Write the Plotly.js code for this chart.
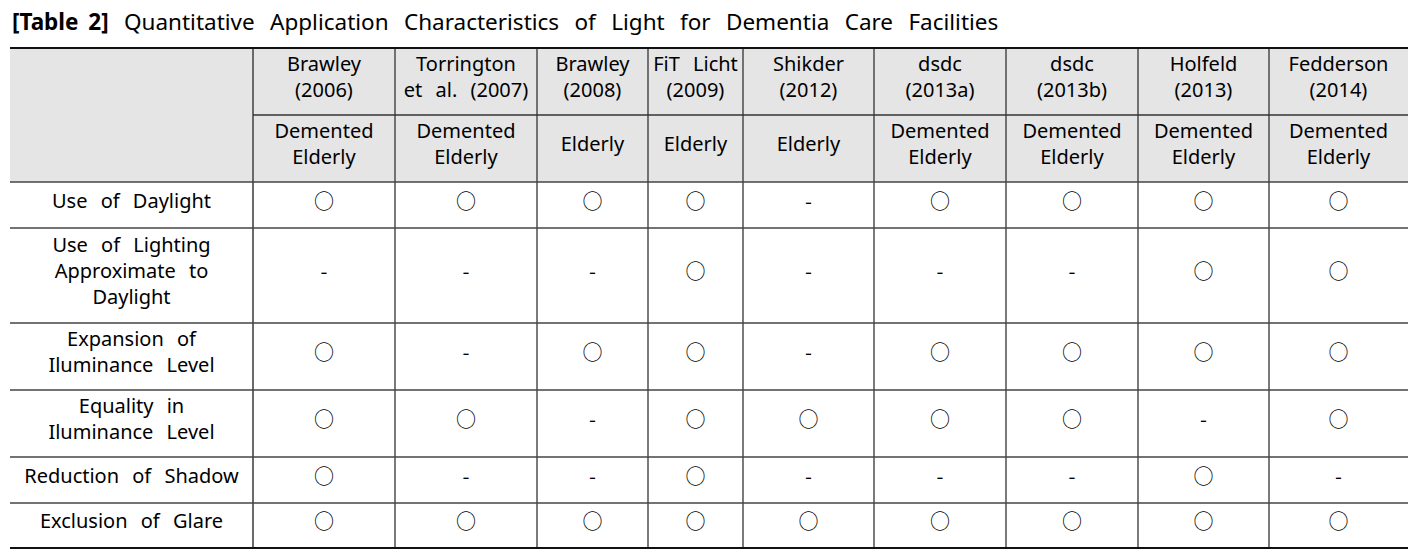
<!DOCTYPE html>
<html>
<head>
<meta charset="utf-8">
<script src="https://cdn.plot.ly/plotly-3.0.1.min.js"></script>
<style>
  html, body { margin: 0; padding: 0; background: #fff; }
  #chart { width: 1428px; height: 551px; }
  #chart .textpoint text { word-spacing: 8px; }
  #chart .gtitle { word-spacing: 9.5px; }
  #chart .gtitle tspan[style*="bold"] { word-spacing: 4px; }
</style>
</head>
<body>
<div id="chart"></div>
<script>
// ---------------- DATA ----------------
const tableTitle = "<b>[Table 2]</b> Quantitative Application Characteristics of Light for Dementia Care Facilities";

const studies = [
  "Brawley<br>(2006)",
  "Torrington<br>et al. (2007)",
  "Brawley<br>(2008)",
  "FiT Licht<br>(2009)",
  "Shikder<br>(2012)",
  "dsdc<br>(2013a)",
  "dsdc<br>(2013b)",
  "Holfeld<br>(2013)",
  "Fedderson<br>(2014)"
];

const subjects = [
  "Demented<br>Elderly",
  "Demented<br>Elderly",
  "Elderly",
  "Elderly",
  "Elderly",
  "Demented<br>Elderly",
  "Demented<br>Elderly",
  "Demented<br>Elderly",
  "Demented<br>Elderly"
];

const criteria = [
  "Use of Daylight",
  "Use of Lighting<br>Approximate to<br>Daylight",
  "Expansion of<br>Iluminance Level",
  "Equality in<br>Iluminance Level",
  "Reduction of Shadow",
  "Exclusion of Glare"
];

// one list per criterion, one entry per study
const useOfDaylight      = ["○","○","○","○","-","○","○","○","○"];
const approxDaylight     = ["-","-","-","○","-","-","-","○","○"];
const expansionLevel     = ["○","-","○","○","-","○","○","○","○"];
const equalityLevel      = ["○","○","-","○","○","○","○","-","○"];
const reductionShadow    = ["○","-","-","○","-","-","-","○","-"];
const exclusionGlare     = ["○","○","○","○","○","○","○","○","○"];
const marks = [useOfDaylight, approxDaylight, expansionLevel, equalityLevel, reductionShadow, exclusionGlare];

// ---------------- LAYOUT GEOMETRY ----------------
const W = 1428, H = 551;
const tableLeft = 10, tableTop = 48;
const colWidths = [243, 142, 142, 111, 95, 131, 132, 132, 131, 139];
const headerHeights = [67, 67];
const bodyHeights = [46, 95, 67, 67, 46, 45];
const textLift = 2.5;   // text sits slightly above the geometric centre of each cell

const colEdges = [tableLeft];
colWidths.forEach(w => colEdges.push(colEdges[colEdges.length - 1] + w));
const tableRight = colEdges[colEdges.length - 1];
const colCenter = i => (colEdges[i] + colEdges[i + 1]) / 2;

const rowHeights = headerHeights.concat(bodyHeights);
const rowEdges = [tableTop];
rowHeights.forEach(h => rowEdges.push(rowEdges[rowEdges.length - 1] + h));
const tableBottom = rowEdges[rowEdges.length - 1];
const rowCenter = i => (rowEdges[i] + rowEdges[i + 1]) / 2 - textLift;

const textFont = { family: "'Noto Sans', 'Open Sans', sans-serif", size: 20, color: "#000" };
const markFont = { family: "'Noto Sans CJK KR', 'Noto Sans', sans-serif", size: 20, color: "#000" };

// ---------------- TRACES ----------------
function textTrace(xs, ys, texts, font) {
  return {
    type: "scatter", mode: "text", x: xs, y: ys, text: texts,
    textposition: "middle center", textfont: font,
    hoverinfo: "skip", showlegend: false, cliponaxis: false
  };
}

const traces = [];
// header row 1: studies
traces.push(textTrace(studies.map((_, j) => colCenter(j + 1)), studies.map(() => rowCenter(0)), studies, textFont));
// header row 2: subjects
traces.push(textTrace(subjects.map((_, j) => colCenter(j + 1)), subjects.map(() => rowCenter(1)), subjects, textFont));
// row labels
traces.push(textTrace(criteria.map(() => colCenter(0)), criteria.map((_, i) => rowCenter(i + 2)), criteria, textFont));
// marks
const mx = [], my = [], mt = [];
marks.forEach((row, i) => row.forEach((m, j) => {
  mx.push(colCenter(j + 1)); my.push(rowCenter(i + 2) + 1); mt.push(m);
}));
traces.push(textTrace(mx, my, mt, markFont));

// ---------------- SHAPES ----------------
const shapes = [];
// header background
shapes.push({ type: "rect", xref: "x", yref: "y", layer: "below",
  x0: tableLeft, x1: tableRight, y0: rowEdges[0], y1: rowEdges[2],
  fillcolor: "#e5e5e5", line: { width: 0 } });
// vertical lines
for (let c = 1; c < colEdges.length - 1; c++) {
  shapes.push({ type: "line", xref: "x", yref: "y",
    x0: colEdges[c], x1: colEdges[c], y0: tableTop, y1: tableBottom,
    line: { color: c === 1 ? "#6a6a6a" : "#333", width: c === 1 ? 2 : 1.3 } });
}
// line between the two header rows (not under the merged first cell)
shapes.push({ type: "line", xref: "x", yref: "y",
  x0: colEdges[1], x1: tableRight, y0: rowEdges[1], y1: rowEdges[1],
  line: { color: "#333", width: 1.3 } });
// body horizontal lines
for (let r = 2; r < rowEdges.length - 1; r++) {
  shapes.push({ type: "line", xref: "x", yref: "y",
    x0: tableLeft, x1: tableRight, y0: rowEdges[r], y1: rowEdges[r],
    line: { color: "#444", width: 1.3 } });
}
// top and bottom rules
[tableTop, tableBottom].forEach(y => shapes.push({ type: "line", xref: "x", yref: "y",
  x0: tableLeft, x1: tableRight, y0: y, y1: y, line: { color: "#111", width: 2.2 } }));

const layout = {
  width: W, height: H,
  margin: { l: 0, r: 0, t: 0, b: 0 },
  paper_bgcolor: "#fff", plot_bgcolor: "#fff",
  title: {
    text: tableTitle,
    x: 12 / W, xanchor: "left", xref: "paper",
    y: 1 - 22 / H, yanchor: "middle", yref: "container",
    font: { family: "'Noto Sans', 'Open Sans', sans-serif", size: 22.5, color: "#000" }
  },
  xaxis: { range: [0, W], visible: false, fixedrange: true },
  yaxis: { range: [H, 0], visible: false, fixedrange: true },
  shapes: shapes,
  showlegend: false
};

Plotly.newPlot("chart", traces, layout, { displayModeBar: false, staticPlot: true });
</script>
</body>
</html>
